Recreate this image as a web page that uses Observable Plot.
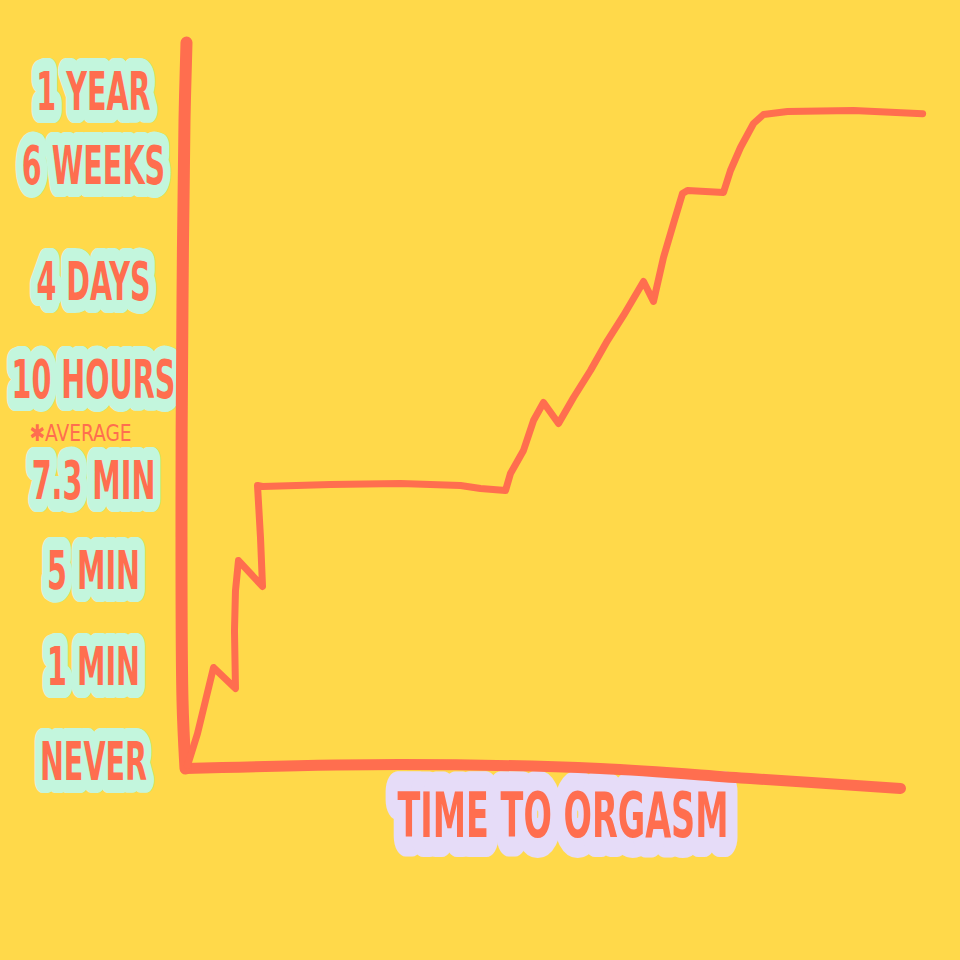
<!DOCTYPE html>
<html><head><meta charset="utf-8">
<script src="https://cdn.jsdelivr.net/npm/d3@7"></script>
<script src="https://cdn.jsdelivr.net/npm/@observablehq/plot@0.6"></script>
<style>html,body{margin:0;padding:0;background:#FFD94A;} svg{display:block}</style>
</head><body><div id="chart"></div>
<script>
// Y-axis tick labels (hand-drawn, irregular spacing; positions on a 0–100 "height" scale)
const labels = ["1 YEAR", "6 WEEKS", "4 DAYS", "10 HOURS", "7.3 MIN", "5 MIN", "1 MIN", "NEVER"];
const labelPos = [93.1, 82.8, 66.9, 53.4, 39.4, 27.1, 13.8, 0.8];
const noteText = ["✱AVERAGE"];
const notePos = [46.1];
const axisTitle = ["TIME TO ORGASM"];

// the hand-drawn curve (progress 0–100, height 0–100)
const curveX = [0.28, 1.68, 2.80, 3.92, 6.99, 6.85, 6.99, 7.41, 10.77, 10.49, 10.07, 10.77, 20.28, 30.07, 38.46, 41.26, 44.76,
  45.45, 47.27, 48.67, 50.07, 52.17, 54.27, 56.64, 59.02, 61.26, 64.06, 65.45, 66.85, 68.25, 69.51, 70.21, 75.24,
  76.22, 77.62, 79.44, 80.84, 84.20, 93.43, 103.1];
const curveY = [0.41, 4.82, 9.37, 13.91, 11.02, 19.0, 24.5, 28.65, 25.07, 31.8, 38.98, 38.84, 39.12, 39.26, 38.98, 38.57, 38.29,
  40.63, 43.80, 47.93, 50.41, 47.52, 51.10, 54.82, 58.95, 62.40, 67.08, 64.33, 70.39, 75.07, 79.20, 79.61, 79.34,
  82.37, 85.54, 88.84, 90.08, 90.50, 90.63, 90.2];

// hand-drawn axes
const yAxisX = [0.14, -0.14, -0.42, -0.56, -0.42, 0];
const yAxisY = [100, 89.3, 64.5, 36.9, 9.4, 0];
const xAxisX = [0, 30.1, 58, 79, 100];
const xAxisY = [0, 0.55, 0, -1.38, -2.75];

const BG = "#FFD94A", ORANGE = "#FF6E4F", MINT = "#C3F6DD", LAV = "#E6DCF8";
const FONT = "'DejaVu Sans Condensed', 'Liberation Sans Narrow', 'DejaVu Sans', sans-serif";

const curve = curveX.map((x, i) => ({x, y: curveY[i]}));
const yAxis = yAxisX.map((x, i) => ({x, y: yAxisY[i]}));
const xAxis = xAxisX.map((x, i) => ({x, y: xAxisY[i]}));
const ticks = labels.map((t, i) => ({t, y: labelPos[i]}));
const notes = noteText.map((t, i) => ({t, y: notePos[i]}));

const chart = Plot.plot({
  width: 960, height: 960,
  marginLeft: 185, marginRight: 60, marginTop: 42, marginBottom: 192,
  style: {background: BG, fontFamily: FONT, overflow: "visible"},
  x: {domain: [0, 100], axis: null},
  y: {domain: [0, 100], axis: null},
  marks: [
    // tick labels on mint highlighter blobs (stroke painted under the fill)
    Plot.text(ticks, {y: "y", text: "t", frameAnchor: "left", textAnchor: "middle", dx: -92, fontSize: 53, fontWeight: "bold",
      fill: ORANGE, stroke: MINT, strokeWidth: 26, strokeLinejoin: "round", paintOrder: "stroke", ariaDescription: "squeeze"}),
    Plot.text(notes, {y: "y", text: "t", frameAnchor: "left", textAnchor: "middle", dx: -105, fontSize: 23, fill: ORANGE,
      ariaDescription: "note"}),
    // axis title on a lavender blob
    Plot.text(axisTitle, {frameAnchor: "bottom", textAnchor: "middle", dx: 20, dy: 68, text: d => d, fontSize: 62, fontWeight: "bold",
      fill: ORANGE, stroke: LAV, strokeWidth: 40, strokeLinejoin: "round", paintOrder: "stroke", ariaDescription: "squeeze"}),
    // axes
    Plot.line(xAxis, {x: "x", y: "y", stroke: ORANGE, strokeWidth: 11, strokeLinecap: "round", strokeLinejoin: "round", curve: "catmull-rom"}),
    Plot.line(yAxis, {x: "x", y: "y", stroke: ORANGE, strokeWidth: 12, strokeLinecap: "round", strokeLinejoin: "round", curve: "catmull-rom"}),
    // the curve
    Plot.line(curve, {x: "x", y: "y", stroke: ORANGE, strokeWidth: 7, strokeLinecap: "round", strokeLinejoin: "round"})
  ]
});
document.getElementById("chart").append(chart);
chart.querySelectorAll('g[aria-description="squeeze"] text').forEach(t => {
  const L = t.getComputedTextLength();
  t.setAttribute("textLength", L * 0.6);
  t.setAttribute("lengthAdjust", "spacingAndGlyphs");
});
chart.querySelectorAll('g[aria-description="note"] text').forEach(t => {
  const L = t.getComputedTextLength();
  t.setAttribute("textLength", L * 0.9);
  t.setAttribute("lengthAdjust", "spacingAndGlyphs");
});
</script></body></html>
